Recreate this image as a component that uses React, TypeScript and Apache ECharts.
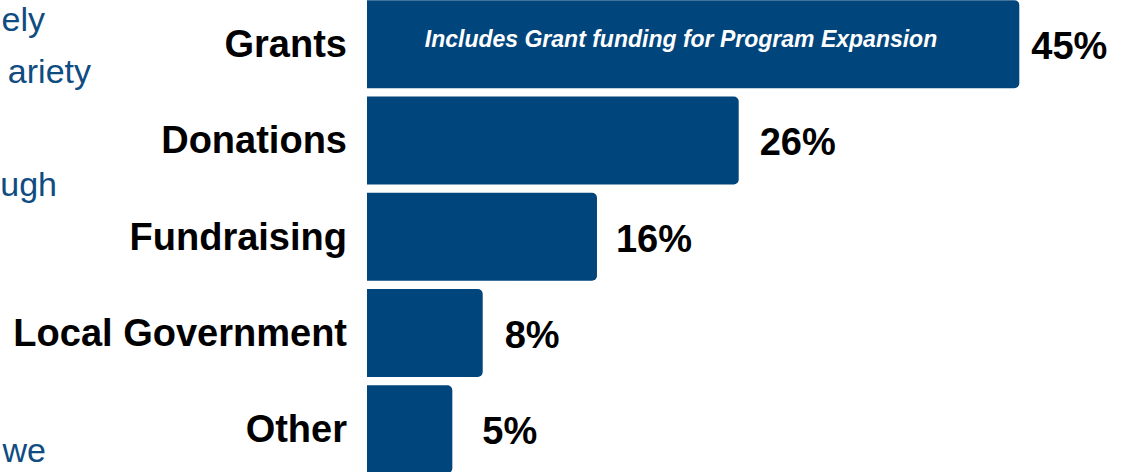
import React, { useEffect, useRef } from "react";
import * as echarts from "echarts";

const categories = ["Grants", "Donations", "Fundraising", "Local Government", "Other"];
const shares = [45.1, 25.7, 15.9, 8.0, 5.9];
const shareLabels = ["45%", "26%", "16%", "8%", "5%"];
const labelGaps = [12, 21, 19, 22, 30];
const grantNote = "Includes Grant funding for Program Expansion";
const sideTextFragments = ["ely", "ariety", "ugh", "we"];

const FONT = "Liberation Sans";
const BAR = "#00457c";
const SIDE_BLUE = "#0f4c81";

export default function App() {
  const ref = useRef<HTMLDivElement>(null);
  useEffect(() => {
    if (!ref.current) return;
    const chart = echarts.init(ref.current, null, { renderer: "svg" });
    const sidePos = [
      { x: 45, y: 19 },
      { x: 91, y: 71 },
      { x: 57, y: 184 },
      { x: 46, y: 450 },
    ];
    chart.setOption({
      animation: false,
      backgroundColor: "#ffffff",
      grid: { left: 367, right: 0, top: -4, bottom: -5.5, containLabel: false, outerBoundsMode: "none" },
      xAxis: {
        type: "value",
        min: 0,
        max: 52.2,
        show: false,
      },
      yAxis: {
        type: "category",
        data: categories,
        inverse: true,
        axisLine: { show: false },
        axisTick: { show: false },
        splitLine: { show: false },
        axisLabel: {
          fontSize: 38,
          fontWeight: "bold",
          color: "#000000",
          fontFamily: FONT,
          margin: 20,
        },
      },
      series: [
        {
          type: "bar",
          barWidth: 88,
          data: shares.map((v, i) => ({
            value: v,
            label: { distance: labelGaps[i] },
          })),
          itemStyle: { color: BAR, borderRadius: [0, 5, 5, 0] },
          label: {
            show: true,
            position: "right",
            fontSize: 38,
            fontWeight: "bold",
            color: "#000000",
            fontFamily: FONT,
            offset: [0, 2],
            formatter: (p: any) => shareLabels[p.dataIndex],
          },
        },
      ],
      graphic: [
        {
          type: "text",
          z: 100,
          x: 681,
          y: 39,
          style: {
            text: grantNote,
            fill: "#ffffff",
            fontSize: 23,
            fontWeight: "bold",
            fontStyle: "italic",
            fontFamily: FONT,
            textAlign: "center",
            textVerticalAlign: "middle",
          },
        },
        ...sideTextFragments.map((t, i) => ({
          type: "text",
          z: 100,
          x: sidePos[i].x,
          y: sidePos[i].y,
          style: {
            text: t,
            fill: SIDE_BLUE,
            fontSize: 34,
            fontFamily: FONT,
            textAlign: "right",
            textVerticalAlign: "middle",
          },
        })),
      ],
    });
    return () => chart.dispose();
  }, []);
  return (
    <div
      ref={ref}
      style={{ position: "fixed", left: 0, top: 0, width: 1122, height: 472 }}
    />
  );
}
